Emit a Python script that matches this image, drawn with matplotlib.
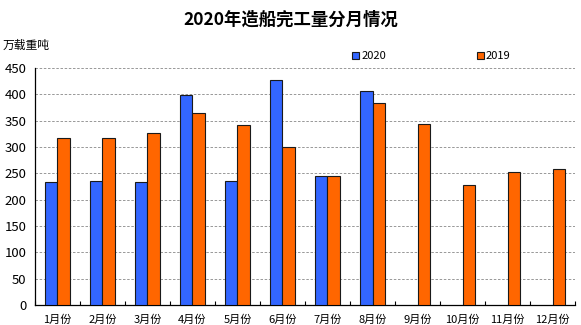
import numpy as np
import matplotlib.pyplot as plt

plt.rcParams['font.family'] = ['Noto Sans CJK SC', 'DejaVu Sans']

months = ['1月份', '2月份', '3月份', '4月份', '5月份', '6月份',
          '7月份', '8月份', '9月份', '10月份', '11月份', '12月份']
y2020 = [233, 235, 233, 399, 235, 427, 245, 407]
y2019 = [318, 318, 326, 364, 342, 300, 245, 383, 343, 228, 252, 259]

fig = plt.figure(figsize=(5.81, 3.25), dpi=100)
ax = fig.add_axes([0.0602, 0.0615, 0.9295, 0.7293])

x = np.arange(len(months))
w = 0.28
ax.bar(x[:len(y2020)] - w/2, y2020, w, color='#3366FF', edgecolor='#1a1a1a',
       linewidth=0.8, label='2020', zorder=3)
ax.bar(x - w/2 + w, y2019, w, color='#FF6600', edgecolor='#1a1a1a',
       linewidth=0.8, label='2019', zorder=3)

ax.set_xlim(-0.5, len(months) - 0.5)
ax.set_ylim(0, 450)
ax.set_yticks(np.arange(0, 451, 50))
ax.yaxis.grid(True, linestyle=(0, (3, 2)), color='#888888', linewidth=0.6, zorder=0)
ax.set_axisbelow(True)

ax.set_xticks(x)
ax.set_xticklabels(months, fontsize=8)
ax.set_xticks(np.arange(-0.5, len(months)), minor=True)
ax.tick_params(axis='x', which='major', length=0, pad=7)
ax.tick_params(axis='x', which='minor', direction='in', length=3, width=0.8)
ax.tick_params(axis='y', length=0, labelsize=9.5, pad=6)

for s in ['top', 'right']:
    ax.spines[s].set_visible(False)
ax.spines['left'].set_linewidth(0.9)
ax.spines['bottom'].set_linewidth(0.9)

fig.text(0.5, 0.94, '2020年造船完工量分月情况', ha='center', va='center',
         fontsize=12.5, fontweight='bold')
fig.text(0.004, 0.86, '万载重吨', ha='left', va='center', fontsize=8.5)

ax.legend(loc='lower left', bbox_to_anchor=(0.575, 1.0), ncol=2, frameon=False,
          fontsize=8, handlelength=0.6, handleheight=0.6, handletextpad=0.2,
          columnspacing=8.2, borderaxespad=0.2)

fig.savefig('out.png', dpi=100)
